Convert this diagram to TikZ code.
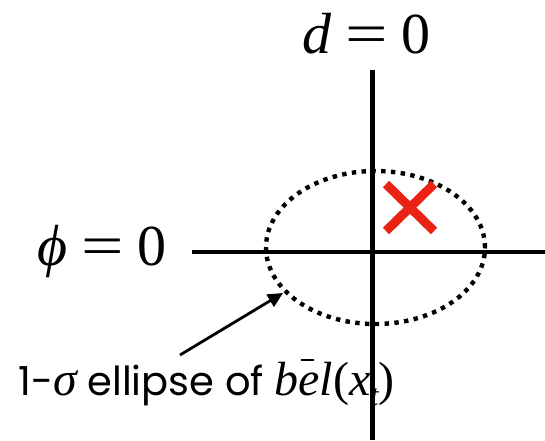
\documentclass[tikz,border=0pt]{standalone}
\usepackage{fontspec}
\setmainfont{Poppins}
\newfontfamily\tms{Liberation Serif}
\usetikzlibrary{arrows.meta,shapes.geometric}
\definecolor{xred}{RGB}{235,35,20}
\tikzset{
  axis/.style={line width=4.6pt},
  belief/.style={draw, ellipse, line width=4.4pt, dash pattern=on 4.4pt off 5.4pt, minimum width=219pt, minimum height=153pt, inner sep=0pt},
  markx/.style={line width=9pt, xred},
  pointer/.style={line width=2.8pt, -{Triangle[length=15pt,width=14pt]}},
  biglabel/.style={inner sep=0pt, font=\tms\fontsize{58}{64}\selectfont},
  caption/.style={inner sep=0pt, font=\fontsize{40}{44}\selectfont}
}
\begin{document}
\begin{tikzpicture}[x=1pt,y=-1pt]
\useasboundingbox (0,0) rectangle (545,440);
% caption (drawn first, the axis runs over its subscript)
\node[caption, anchor=base west] (cap) at (18,395) {1-{\tms\itshape\fontsize{48}{52}\selectfont σ} ellipse of {\tms\fontsize{48}{52}\selectfont\itshape b\makebox[0pt][l]{\hspace{2pt}\raisebox{34pt}{\rule{13pt}{1.8pt}}}el\upshape(\itshape x\raisebox{-10pt}{\fontsize{30}{32}\selectfont t}\upshape)}};
% axis labels
\node[biglabel, anchor=base west] (dlab) at (302,53) {{\itshape d}\hspace{14pt}\scalebox{1.3}[1]{=}\hspace{14pt}0};
\node[biglabel, anchor=base west] (plab) at (37,265) {{\itshape ϕ}\hspace{14pt}\scalebox{1.3}[1]{=}\hspace{14pt}0};
% axes
\coordinate (vtop) at (372.5,70);
\coordinate (vbot) at (372.5,440);
\coordinate (hl) at (192,252);
\coordinate (hr) at (545,252);
\draw[axis] (vtop) -- (vbot);
\draw[axis] (hl) -- (hr);
% ellipse
\node[belief] (ell) at (375.5,247.5) {};
% estimate mark
\coordinate (xa) at (386,184);
\coordinate (xb) at (434,231);
\coordinate (xc) at (386,231);
\coordinate (xd) at (434,184);
\draw[markx] (xa) -- (xb);
\draw[markx] (xc) -- (xd);
% pointer
\coordinate (ptail) at (180,355);
\coordinate (ptip) at (283,293);
\draw[pointer] (ptail) -- (ptip);
\end{tikzpicture}
\end{document}
